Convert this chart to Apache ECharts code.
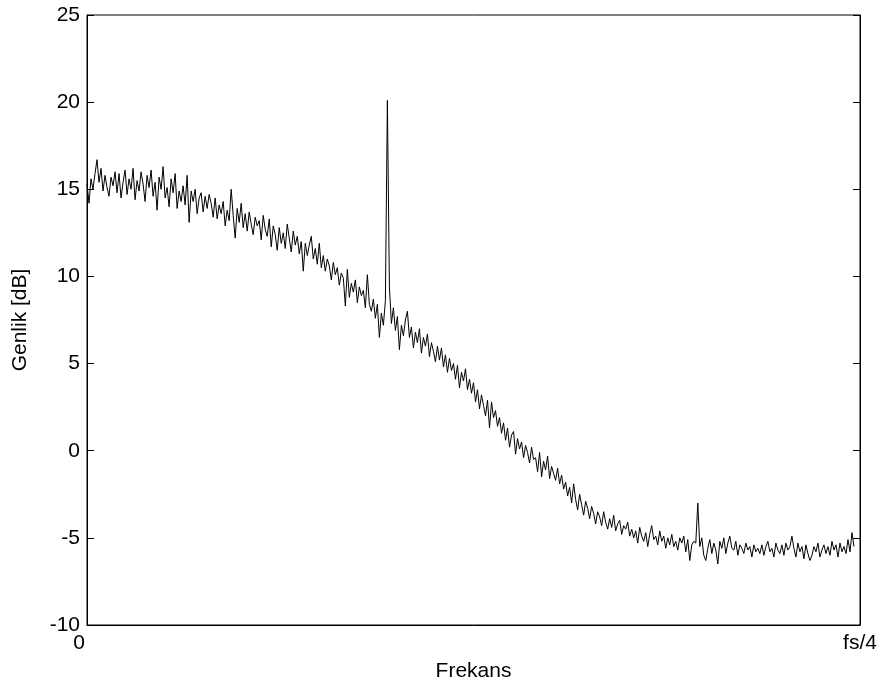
<!DOCTYPE html>
<html>
<head>
<meta charset="utf-8">
<title>Genlik spektrumu</title>
<script src="https://cdn.jsdelivr.net/npm/echarts@6/dist/echarts.min.js"></script>
<style>
  html, body { margin: 0; padding: 0; background: #fff; }
  #chart { width: 882px; height: 689px; }
</style>
</head>
<body>
<div id="chart"></div>
<script>
// Frequency axis: bins 0 .. BIN_COUNT map to 0 .. fs/4
const BIN_COUNT = 386;
const xTickValues = [0, BIN_COUNT];
const xTickLabels = ['0', 'fs/4'];
const yTicks = [-10, -5, 0, 5, 10, 15, 20, 25];

// Magnitude per frequency bin, dB
const genlikDb = [
  15.3, 14.2, 15.6, 15.0, 15.9, 16.7, 15.4, 16.2, 14.9, 15.8, 15.1, 14.6, 15.7, 15.2, 16.0, 14.8,
  15.9, 14.5, 15.4, 16.1, 14.7, 15.6, 15.0, 16.2, 14.4, 15.5, 14.9, 16.0, 15.3, 14.3, 15.8, 15.1,
  16.1, 14.6, 15.4, 13.8, 15.7, 15.0, 16.3, 14.5, 15.1, 14.0, 15.6, 14.8, 15.9, 13.9, 14.9, 14.3,
  15.2, 14.1, 15.8, 13.1, 14.9, 14.3, 15.0, 13.6, 14.5, 14.8, 13.7, 14.6, 13.9, 14.7, 14.2, 13.4,
  14.5, 13.3, 14.1, 13.6, 14.3, 12.9, 13.8, 13.2, 15.0, 13.5, 12.2, 13.9, 13.1, 14.2, 12.8, 13.6,
  12.6, 13.7, 13.0, 12.4, 13.4, 12.9, 13.2, 12.1, 13.5, 12.7, 12.3, 13.3, 11.7, 12.9, 12.4, 11.5,
  12.8, 11.9, 12.5, 11.6, 13.0, 12.2, 11.4, 12.6, 11.8, 12.3, 11.3, 12.0, 10.3, 11.9, 11.2, 11.8,
  12.3, 11.0, 11.6, 10.7, 11.9, 10.5, 11.2, 10.3, 11.0, 10.6, 9.8, 10.8, 10.1, 10.5, 9.5, 10.2,
  9.9, 8.3, 10.4, 8.8, 9.6, 9.1, 9.8, 8.5, 9.4, 8.9, 9.2, 8.2, 10.1, 8.4, 8.0, 8.7,
  7.6, 8.4, 6.5, 7.9, 7.2, 8.6, 20.1, 9.4, 7.3, 8.2, 6.9, 7.7, 5.8, 7.2, 6.6, 7.5,
  8.0, 6.5, 7.1, 5.9, 6.8, 6.2, 7.0, 5.6, 6.5, 6.0, 6.7, 5.4, 6.2, 5.7, 5.1, 6.0,
  5.2, 5.9, 4.8, 5.5, 4.5, 5.3, 4.6, 5.0, 4.1, 4.9, 3.6, 4.5, 4.0, 4.7, 3.5, 4.1,
  3.3, 3.9, 2.8, 3.5, 2.4, 3.2, 2.6, 2.0, 2.9, 1.3, 2.8, 1.9, 2.3, 1.4, 1.9, 1.0,
  1.6, 0.6, 1.3, 0.2, 0.9, 1.1, -0.2, 0.7, 0.1, 0.5, -0.4, 0.3, -0.1, -0.7, 0.2, -0.5,
  -0.4, -1.2, -0.1, -1.5, -0.6, -1.1, -0.3, -1.6, -0.9, -1.3, -1.7, -1.0, -1.9, -1.4, -2.2, -1.8,
  -2.6, -2.1, -3.0, -1.9, -2.8, -3.4, -2.5, -3.1, -3.7, -2.9, -3.3, -3.9, -3.2, -3.6, -4.2, -3.5,
  -3.8, -4.3, -3.5, -4.1, -4.5, -3.9, -4.4, -3.7, -4.6, -4.2, -4.0, -4.8, -4.3, -4.5, -4.1, -4.9,
  -4.5, -5.0, -4.6, -5.3, -4.4, -4.9, -5.2, -4.7, -5.5, -4.8, -4.3, -5.1, -4.9, -5.4, -4.6, -5.2,
  -4.9, -5.6, -5.0, -5.4, -4.8, -5.5, -5.2, -5.7, -5.0, -5.3, -4.9, -5.8, -5.1, -6.3, -5.4, -5.2,
  -5.3, -3.0, -5.5, -5.0, -6.0, -6.3, -5.6, -5.1, -5.9, -5.3, -5.7, -6.5, -5.2, -5.6, -5.0, -5.9,
  -5.3, -4.9, -5.6, -5.7, -5.2, -6.0, -5.4, -5.6, -5.9, -5.3, -5.7, -5.5, -6.1, -5.4, -5.8, -5.6,
  -5.9, -5.4, -6.0, -5.5, -5.2, -5.8, -5.6, -6.1, -5.3, -5.7, -5.9, -5.4, -6.0, -5.3, -5.7, -5.5,
  -4.9, -5.6, -6.1, -5.3, -5.8, -5.5, -6.2, -5.4, -5.9, -6.3, -6.0, -5.5, -5.8, -5.3, -6.1, -5.7,
  -5.4, -5.9, -5.5, -6.0, -5.2, -5.7, -5.4, -6.1, -5.3, -5.8, -5.5, -5.9, -5.1, -5.8, -4.7, -5.5
];

const FONT = '"Liberation Sans", Arial, sans-serif';
const FONT_SIZE = 21;
const TEXT_COLOR = '#000';

const chart = echarts.init(document.getElementById('chart'), null, { renderer: 'canvas' });

const lineData = genlikDb.map((v, i) => [i, v]);

const commonYAxis = {
  type: 'value',
  min: yTicks[0],
  max: yTicks[yTicks.length - 1],
  interval: 5,
  axisLine: { show: true, onZero: false, lineStyle: { color: '#000', width: 1 } },
  axisTick: { show: true, inside: true, length: 7, lineStyle: { color: '#000', width: 1 } },
  splitLine: { show: false }
};

chart.setOption({
  animation: false,
  backgroundColor: '#fff',
  grid: {
    left: 87, right: 22, top: 15, bottom: 64,
    show: true, borderColor: '#000', borderWidth: 1, backgroundColor: 'transparent'
  },
  xAxis: {
    type: 'value',
    min: xTickValues[0],
    max: xTickValues[1],
    interval: BIN_COUNT,
    name: 'Frekans',
    nameLocation: 'middle',
    nameGap: 36,
    nameTextStyle: { color: TEXT_COLOR, fontSize: FONT_SIZE, fontFamily: FONT },
    axisLine: { show: true, onZero: false, lineStyle: { color: '#000', width: 1 } },
    axisTick: { show: false },
    splitLine: { show: false },
    axisLabel: {
      color: TEXT_COLOR, fontSize: FONT_SIZE, fontFamily: FONT, margin: 8,
      showMinLabel: true, showMaxLabel: true,
      formatter: (v) => {
        const k = xTickValues.indexOf(v);
        if (k < 0) return '';
        return k === 0 ? '{first|' + xTickLabels[k] + '}' : xTickLabels[k];
      },
      rich: {
        first: { color: TEXT_COLOR, fontSize: FONT_SIZE, fontFamily: FONT, padding: [0, 16, 0, 0] }
      }
    }
  },
  yAxis: [
    Object.assign({}, commonYAxis, {
      position: 'left',
      name: 'Genlik [dB]',
      nameLocation: 'middle',
      nameGap: 56,
      nameTextStyle: { color: TEXT_COLOR, fontSize: FONT_SIZE, fontFamily: FONT },
      axisLabel: { color: TEXT_COLOR, fontSize: FONT_SIZE, fontFamily: FONT, margin: 7 }
    }),
    Object.assign({}, commonYAxis, {
      position: 'right',
      axisLabel: { show: false }
    })
  ],
  series: [{
    type: 'line',
    data: lineData,
    xAxisIndex: 0,
    yAxisIndex: 0,
    showSymbol: false,
    symbol: 'none',
    lineStyle: { color: '#000', width: 1 },
    emphasis: { disabled: true }
  }]
});
</script>
</body>
</html>
